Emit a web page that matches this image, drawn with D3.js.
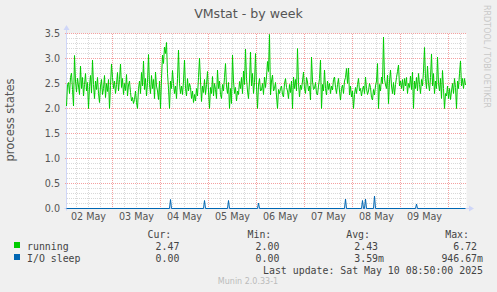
<!DOCTYPE html>
<html>
<head>
<meta charset="utf-8">
<script src="https://cdnjs.cloudflare.com/ajax/libs/d3/7.8.5/d3.min.js"></script>
<style>
  html, body { margin: 0; padding: 0; background: #f0f0f0; }
  svg { display: block; }
</style>
</head>
<body>
<div id="vis-container"></div>
<script>
// chart data
const title = "VMstat - by week";
const yLabel = "process states";
const dayLabels = ["02 May", "03 May", "04 May", "05 May", "06 May", "07 May", "08 May", "09 May"];
const yTicks = [0, 0.5, 1.0, 1.5, 2.0, 2.5, 3.0, 3.5];

// first sample, 30 minute steps
const startTime = new Date(2025, 4, 2, 1, 0);
const stepMinutes = 30;

// running (one value per 30 min)
const running = [
  // 02 May
  2.05, 2.48, 2.52, 2.30, 2.62, 2.71, 2.38, 2.05, 3.06, 2.55,
  2.33, 2.61, 2.45, 2.28, 2.85, 2.40, 2.62, 2.25, 2.48, 2.70,
  2.35, 2.52, 2.00, 2.44, 2.66, 2.31, 2.97, 2.48, 2.20, 2.55,
  2.38, 2.62, 2.30, 2.12, 2.45, 2.58, 2.28, 2.40, 2.66, 2.22,
  2.50, 2.34, 2.58, 2.00, 2.46, 2.89,
  // 03 May
  2.62, 2.40, 2.55, 2.30, 2.48, 2.72, 2.35, 2.58, 2.89, 2.42,
  2.60, 2.28, 2.50, 2.36, 2.68, 2.25, 2.47, 2.55, 2.32, 2.15,
  2.22, 2.10, 2.18, 2.35, 2.12, 2.00, 2.40, 2.55, 2.30, 2.72,
  2.45, 2.95, 2.38, 2.60, 2.25, 2.52, 3.08, 2.48, 2.30, 2.66,
  2.40, 2.58, 2.20, 2.73, 2.45, 2.35, 2.18, 2.55,
  // 04 May
  2.00, 2.60, 3.07, 2.90, 3.23, 3.10, 3.32, 2.70, 2.40, 2.00,
  2.55, 2.40, 2.76, 2.50, 2.30, 2.45, 2.20, 2.60, 3.17, 2.50,
  2.30, 2.45, 2.28, 2.55, 2.97, 2.40, 2.25, 2.60, 2.35, 2.50,
  2.42, 2.20, 2.35, 2.12, 2.28, 2.15, 2.40, 2.25, 2.62, 3.01,
  2.55, 2.14, 2.45, 2.32, 2.58, 2.28, 2.48, 2.74,
  // 05 May
  2.35, 2.00, 2.42, 2.30, 2.64, 2.25, 2.50, 2.38, 2.20, 2.77,
  2.40, 2.55, 2.28, 2.20, 2.48, 2.35, 2.62, 2.90, 2.45, 2.30,
  2.52, 2.00, 2.40, 2.10, 3.07, 2.55, 2.30, 2.42, 2.15, 2.35,
  2.28, 2.54, 2.40, 2.62, 2.30, 2.75, 2.48, 3.19, 2.60, 2.35,
  2.20, 2.55, 3.13, 2.45, 2.70, 2.30, 2.52, 3.10,
  // 06 May
  2.45, 2.00, 2.47, 2.60, 2.35, 2.37, 2.50, 2.28, 2.63, 2.42,
  2.63, 2.94, 2.74, 3.48, 2.27, 2.55, 2.67, 2.35, 2.40, 2.52,
  2.25, 2.00, 2.38, 2.30, 2.40, 2.45, 2.28, 2.23, 2.50, 2.60,
  2.42, 2.35, 2.20, 2.48, 2.32, 2.55, 2.00, 2.63, 2.40, 2.58,
  2.35, 3.20, 2.50, 2.23, 2.47, 2.38, 2.55, 2.73,
  // 07 May
  2.40, 2.30, 2.62, 2.53, 2.35, 2.45, 2.17, 3.03, 2.55, 2.38,
  2.40, 2.52, 2.30, 2.27, 2.45, 2.60, 2.97, 2.00, 2.48, 2.35,
  2.77, 2.40, 2.27, 2.55, 2.38, 2.50, 2.30, 2.45, 2.37, 2.58,
  2.63, 2.42, 2.30, 2.48, 2.60, 2.35, 2.17, 2.40, 2.47, 2.30,
  2.55, 2.62, 2.80, 2.50, 2.81, 2.27, 2.45, 2.23,
  // 08 May
  2.35, 2.00, 2.28, 2.42, 2.30, 2.48, 2.60, 2.35, 2.40, 2.25,
  2.38, 2.45, 2.30, 2.63, 2.40, 2.28, 2.35, 2.50, 2.42, 2.22,
  2.17, 2.38, 2.27, 2.45, 2.55, 2.90, 2.00, 2.48, 2.35, 2.63,
  2.50, 3.43, 2.60, 2.47, 2.40, 2.67, 2.10, 2.55, 2.77, 2.45,
  2.30, 2.52, 2.27, 2.48, 2.62, 2.74, 2.87, 2.45,
  // 09 May
  2.55, 2.40, 2.58, 2.35, 2.60, 2.45, 2.62, 2.30, 2.50, 2.42,
  2.65, 2.38, 2.73, 2.00, 2.55, 2.40, 2.62, 2.35, 2.70, 2.48,
  2.30, 2.58, 2.45, 2.75, 3.22, 2.60, 2.40, 2.85, 2.50, 2.35,
  2.62, 3.09, 2.45, 2.70, 2.30, 2.55, 2.40, 3.03, 2.50, 2.35,
  2.60, 2.20, 2.76, 2.40, 2.00, 2.30, 2.25, 2.45,
  // 10 May
  2.20, 2.40, 2.18, 2.35, 2.50, 2.30, 2.60, 2.42, 2.00, 2.55,
  2.40, 2.70, 2.95, 2.45, 2.60, 2.40, 2.60, 2.47
];

// I/O sleep: sample index and value (zero between the spikes)
const ioSleepIndex = [0, 103, 104, 105, 137, 138, 139, 161, 162, 163, 191, 192, 193,
  278, 279, 280, 295, 296, 297, 298, 299, 300, 307, 308, 309, 349, 350, 351, 399];
const ioSleepValue = [0, 0, 0.18, 0, 0, 0.16, 0, 0, 0.16, 0, 0, 0.11, 0,
  0, 0.19, 0, 0, 0.16, 0, 0, 0.19, 0, 0, 0.25, 0, 0, 0.09, 0, 0];

// legend
const seriesNames = ["running", "I/O sleep"];
const seriesColors = ["#00cc00", "#0066b3"];
const legendCur = ["2.47", "0.00"];
const legendMin = ["2.00", "0.00"];
const legendAvg = ["2.43", "3.59m"];
const legendMax = ["6.72", "946.67m"];
const lastUpdate = "Last update: Sat May 10 08:50:00 2025";
const footer = "Munin 2.0.33-1";
const watermark = "RRDTOOL / TOBI OETIKER";

// setting parameters
const W = 497, H = 292;
const plot = { left: 66.5, right: 466.5, top: 33.5, bottom: 208.5 };

const svg = d3.select("#vis-container")
  .append("svg")
    .attr("width", W)
    .attr("height", H);

svg.append("rect")
  .attr("width", W).attr("height", H)
  .attr("fill", "#f0f0f0");

const sans = "'DejaVu Sans', Verdana, sans-serif";
const mono = "'DejaVu Sans Mono', monospace";

const timeAt = i => new Date(startTime.getTime() + i * stepMinutes * 60000);

// scales
const x = d3.scaleTime()
  .domain([startTime, timeAt(running.length)])
  .range([plot.left, plot.right]);

const y = d3.scaleLinear()
  .domain([0, 3.5])
  .range([plot.bottom, plot.top]);

// canvas
svg.append("rect")
  .attr("x", plot.left).attr("y", plot.top)
  .attr("width", plot.right - plot.left)
  .attr("height", plot.bottom - plot.top)
  .attr("fill", "#ffffff");

const grid = svg.append("g")
  .attr("shape-rendering", "crispEdges");

// minor grid: 6 hours / 0.1
const minorX = d3.timeHour.every(6).range(x.domain()[0], x.domain()[1])
  .filter(d => d.getHours() !== 0);
grid.selectAll(".vminor")
  .data(minorX)
  .enter().append("line")
    .attr("x1", d => Math.round(x(d) - 0.5) + 0.5)
    .attr("x2", d => Math.round(x(d) - 0.5) + 0.5)
    .attr("y1", plot.top).attr("y2", plot.bottom)
    .attr("stroke", "#d8d8d8")
    .attr("stroke-dasharray", "1,1");

const minorY = d3.range(1, 35).map(v => v / 10).filter(v => Math.round(v * 10) % 5 !== 0);
grid.selectAll(".hminor")
  .data(minorY)
  .enter().append("line")
    .attr("x1", plot.left).attr("x2", plot.right)
    .attr("y1", d => Math.round(y(d) - 0.5) + 0.5)
    .attr("y2", d => Math.round(y(d) - 0.5) + 0.5)
    .attr("stroke", "#d8d8d8")
    .attr("stroke-dasharray", "1,1");

// major grid: days / 0.5
const majorX = d3.timeDay.range(x.domain()[0], x.domain()[1]);
grid.selectAll(".vmajor")
  .data(majorX)
  .enter().append("line")
    .attr("x1", d => Math.round(x(d) - 0.5) + 0.5)
    .attr("x2", d => Math.round(x(d) - 0.5) + 0.5)
    .attr("y1", plot.top).attr("y2", plot.bottom)
    .attr("stroke", "#f4a0a0")
    .attr("stroke-dasharray", "1,1");

grid.selectAll(".hmajor")
  .data(yTicks.filter(d => d > 0))
  .enter().append("line")
    .attr("x1", plot.left - 2).attr("x2", plot.right)
    .attr("y1", d => Math.round(y(d) - 0.5) + 0.5)
    .attr("y2", d => Math.round(y(d) - 0.5) + 0.5)
    .attr("stroke", "#f4a0a0")
    .attr("stroke-dasharray", "1,1");

// y tick labels
svg.append("g").selectAll("text")
  .data(yTicks)
  .enter().append("text")
    .attr("x", 60)
    .attr("y", d => y(d) + 3.5)
    .attr("text-anchor", "end")
    .attr("font-family", sans)
    .attr("font-size", 9.6)
    .attr("fill", "#555")
    .text(d => d3.format(".1f")(d));

// x tick labels at noon
svg.append("g").selectAll("text")
  .data(dayLabels)
  .enter().append("text")
    .attr("x", (d, i) => x(d3.timeHour.offset(majorX[0], i * 24 - 12)))
    .attr("y", 220)
    .attr("text-anchor", "middle")
    .attr("font-family", sans)
    .attr("font-size", 9.6)
    .attr("fill", "#555")
    .text(d => d);

// axes with arrows
const axisColor = "#cfd6f8";
svg.append("line")
  .attr("x1", plot.left).attr("x2", plot.left)
  .attr("y1", plot.bottom + 2).attr("y2", 29)
  .attr("stroke", axisColor);
svg.append("path")
  .attr("d", `M${plot.left - 3},30 L${plot.left},25 L${plot.left + 3},30 Z`)
  .attr("fill", axisColor);
svg.append("line")
  .attr("x1", plot.left - 2).attr("x2", 470)
  .attr("y1", plot.bottom).attr("y2", plot.bottom)
  .attr("stroke", axisColor);
svg.append("path")
  .attr("d", `M469,${plot.bottom - 3} L474,${plot.bottom} L469,${plot.bottom + 3} Z`)
  .attr("fill", axisColor);

// series
const line = d3.line()
  .x(d => x(d.t))
  .y(d => y(d.v));

const runningData = running.map((v, i) => ({ t: timeAt(i), v: v }));
const ioData = ioSleepIndex.map((k, i) => ({ t: timeAt(k), v: ioSleepValue[i] }));

svg.append("path")
  .datum(ioData)
  .attr("d", line)
  .attr("fill", "none")
  .attr("stroke", seriesColors[1])
  .attr("stroke-width", 1);

svg.append("path")
  .datum(runningData)
  .attr("d", line)
  .attr("fill", "none")
  .attr("stroke", seriesColors[0])
  .attr("stroke-width", 1);

// title and labels
svg.append("text")
  .attr("x", 248.5).attr("y", 18)
  .attr("text-anchor", "middle")
  .attr("font-family", sans)
  .attr("font-size", 12.6)
  .attr("fill", "#555")
  .text(title);

svg.append("text")
  .attr("transform", "translate(14,120) rotate(-90)")
  .attr("text-anchor", "middle")
  .attr("font-family", sans)
  .attr("font-size", 11.5)
  .attr("fill", "#555")
  .text(yLabel);

svg.append("text")
  .attr("transform", "translate(484,5) rotate(90)")
  .attr("font-family", sans)
  .attr("font-size", 8)
  .attr("fill", "#c8c8c8")
  .text(watermark);

// legend
const charW = 5.95;
const legend = svg.append("g")
  .attr("font-family", mono)
  .attr("font-size", 9.9)
  .attr("fill", "#444");

const cols = [
  { head: "Cur:", end: 185.3, vals: legendCur },
  { head: "Min:", end: 285.3, vals: legendMin },
  { head: "Avg:", end: 384, vals: legendAvg },
  { head: "Max:", end: 483, vals: legendMax }
];

cols.forEach(c => {
  legend.append("text")
    .attr("x", c.end - 14).attr("y", 237.5)
    .attr("text-anchor", "end")
    .text(c.head);
  c.vals.forEach((v, i) => {
    const hasUnit = /[a-zA-Z]$/.test(v);
    legend.append("text")
      .attr("x", hasUnit ? c.end : c.end - charW)
      .attr("y", 249.5 + i * 12)
      .attr("text-anchor", "end")
      .text(v);
  });
});

seriesNames.forEach((name, i) => {
  svg.append("rect")
    .attr("x", 14).attr("y", 242 + i * 12)
    .attr("width", 6).attr("height", 6)
    .attr("fill", seriesColors[i]);
  legend.append("text")
    .attr("x", 27).attr("y", 249.5 + i * 12)
    .text(name);
});

legend.append("text")
  .attr("x", 483).attr("y", 273.5)
  .attr("text-anchor", "end")
  .text(lastUpdate);

svg.append("text")
  .attr("x", 248).attr("y", 284)
  .attr("text-anchor", "middle")
  .attr("font-family", sans)
  .attr("font-size", 8)
  .attr("fill", "#bbb")
  .text(footer);
</script>
</body>
</html>
